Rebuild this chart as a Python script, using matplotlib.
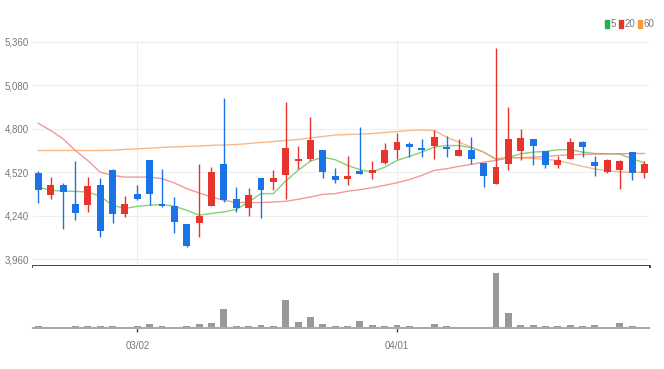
import matplotlib
matplotlib.use('Agg')
import matplotlib.pyplot as plt
from matplotlib.patches import Patch
from matplotlib import font_manager
import numpy as np

names = {f.name for f in font_manager.fontManager.ttflist}
narrow = [n for n in ['Liberation Sans Narrow', 'DejaVu Sans Condensed'] if n in names]
plt.rcParams['font.family'] = narrow + ['Liberation Sans', 'DejaVu Sans']

# daily OHLC (index 0..49)
opens = [4514, 4373, 4435, 4318, 4307, 4435, 4536, 4249, 4382, 4600,
         4311, 4300, 4185, 4190, 4300, 4570, 4349, 4292, 4484, 4454,
         4504, 4589, 4606, 4664, 4495, 4478, 4525, 4514, 4578, 4664,
         4698, 4677, 4685, 4677, 4627, 4664, 4581, 4446, 4574, 4653,
         4734, 4653, 4563, 4602, 4713, 4584, 4520, 4536, 4649, 4514]
highs = [4525, 4488, 4450, 4589, 4488, 4482, 4540, 4365, 4440, 4600,
         4538, 4360, 4185, 4570, 4552, 4997, 4422, 4420, 4484, 4536,
         4969, 4685, 4873, 4664, 4548, 4627, 4813, 4589, 4709, 4773,
         4713, 4734, 4794, 4751, 4734, 4745, 4581, 5318, 4937, 4798,
         4734, 4653, 4627, 4738, 4719, 4627, 4606, 4595, 4649, 4591]
lows = [4320, 4350, 4151, 4211, 4264, 4104, 4190, 4232, 4339, 4307,
        4295, 4129, 4040, 4104, 4300, 4328, 4262, 4236, 4222, 4403,
        4350, 4538, 4591, 4484, 4450, 4435, 4508, 4478, 4574, 4606,
        4616, 4616, 4606, 4616, 4625, 4574, 4424, 4446, 4531, 4600,
        4563, 4548, 4548, 4602, 4616, 4493, 4514, 4414, 4472, 4484]
closes = [4407, 4437, 4390, 4260, 4431, 4142, 4249, 4318, 4350, 4377,
          4300, 4196, 4046, 4238, 4520, 4339, 4291, 4371, 4407, 4484,
          4674, 4602, 4728, 4520, 4472, 4493, 4510, 4531, 4660, 4717,
          4681, 4660, 4746, 4668, 4664, 4602, 4495, 4552, 4730, 4741,
          4685, 4563, 4600, 4717, 4681, 4557, 4595, 4589, 4514, 4570]

# moving averages as drawn on the chart
ma5 = [4424, 4403, 4398, 4396, 4392, 4365, 4307, 4286, 4300, 4307,
       4312, 4300, 4275, 4243, 4254, 4264, 4280, 4328, 4382, 4382,
       4463, 4531, 4591, 4616, 4600, 4563, 4536, 4520, 4552, 4595,
       4621, 4649, 4681, 4691, 4691, 4677, 4649, 4602, 4613, 4638,
       4649, 4653, 4664, 4664, 4649, 4640, 4638, 4636, 4606, 4580]
ma20 = [4834, 4788, 4734, 4659, 4595, 4520, 4499, 4488, 4488, 4488,
        4478, 4450, 4414, 4386, 4360, 4339, 4325, 4324, 4324, 4328,
        4332, 4345, 4360, 4377, 4382, 4397, 4407, 4420, 4435, 4452,
        4472, 4499, 4531, 4542, 4557, 4570, 4584, 4595, 4613, 4613,
        4616, 4621, 4627, 4632, 4634, 4636, 4638, 4638, 4640, 4640]
ma60 = [4659, 4659, 4659, 4659, 4659, 4659, 4661, 4666, 4670, 4674,
        4679, 4682, 4685, 4688, 4692, 4695, 4698, 4704, 4711, 4717,
        4724, 4730, 4740, 4749, 4759, 4762, 4765, 4768, 4775, 4781,
        4788, 4791, 4788, 4745, 4713, 4681, 4649, 4606, 4614, 4611,
        4608, 4602, 4595, 4576, 4557, 4541, 4528, 4522, 4520, 4520]

# volume (thousand shares)
volume = [50, 25, 20, 40, 40, 50, 40, 20, 35, 85,
          40, 20, 35, 80, 100, 380, 45, 45, 60, 45,
          555, 120, 215, 85, 40, 45, 145, 55, 35, 55,
          35, 20, 85, 40, 20, 20, 20, 1100, 300, 55,
          55, 35, 35, 55, 35, 55, 20, 100, 45, 20]

price_ticks = [3960, 4240, 4520, 4800, 5080, 5360]
date_idx = [8, 29]
date_labels = ['03/02', '04/01']

UP = '#e8342f'
DOWN = '#1a74e8'
fsize = 7.5 if narrow else 7

fig = plt.figure(figsize=(6.64, 3.69), dpi=100)
ax = fig.add_axes([0.0497, 0.280, 0.9277, 0.6098])
axv = fig.add_axes([0.0497, 0.111, 0.9277, 0.168], sharex=ax)

x = np.arange(len(opens))
o = np.array(opens)
c = np.array(closes)
up = c >= o
colors = np.where(up, UP, DOWN)

# moving averages (behind candles)
ax.plot(x, ma5, color='#6cc35a', lw=1, alpha=0.8, zorder=2)
ax.plot(x, ma20, color='#f08080', lw=1, alpha=0.8, zorder=2)
ax.plot(x, ma60, color='#f5a86a', lw=1, alpha=0.8, zorder=2)

# candles
ax.vlines(x, lows, highs, colors=colors, lw=1, zorder=3)
body = np.maximum(np.abs(c - o), 12)
ax.bar(x, body, bottom=np.minimum(o, c), width=0.56, color=colors, zorder=4)

ax.set_xlim(-0.43, 49.37)
ax.set_ylim(3918, 5366)
ax.set_yticks(price_ticks)
ax.set_yticklabels([f'{p:,}' for p in price_ticks])
ax.tick_params(axis='y', length=0, pad=3, labelsize=fsize, labelcolor='#777777')
ax.tick_params(axis='x', length=0, labelbottom=False)
ax.set_xticks(date_idx)
ax.grid(True, color='#eeeeee', lw=0.8, zorder=0)
for s in ['top', 'right', 'left']:
    ax.spines[s].set_visible(False)
ax.spines['bottom'].set_color('#333333')
ax.spines['bottom'].set_linewidth(2)

# legend
handles = [Patch(color='#22b14c', label='5'),
           Patch(color='#e8342f', label='20'),
           Patch(color='#f39c3c', label='60')]
fig.legend(handles=handles, loc='upper right', bbox_to_anchor=(0.986, 0.948),
           ncol=3, frameon=False, fontsize=fsize, handlelength=0.4,
           handleheight=0.9, handletextpad=0.15, columnspacing=0.35,
           labelcolor='#777777', borderpad=0, borderaxespad=0)

# volume
axv.bar(x, volume, width=0.56, color='#999999', zorder=2)
axv.set_ylim(0, 1240)
axv.set_yticks([])
for s in ['top', 'right', 'left']:
    axv.spines[s].set_visible(False)
axv.spines['bottom'].set_color('#aaaaaa')
axv.spines['bottom'].set_linewidth(1.5)
axv.set_xticks(date_idx)
axv.set_xticklabels(date_labels)
axv.tick_params(axis='x', length=3, width=1, color='#444444', pad=6,
                labelsize=fsize, labelcolor='#777777')

fig.savefig('out.png', dpi=100)
